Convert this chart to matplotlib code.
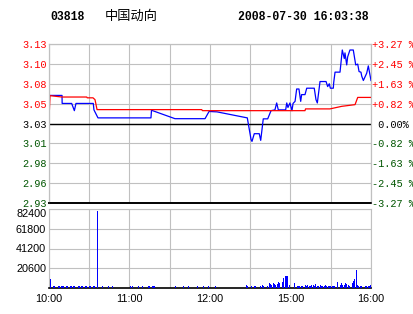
import matplotlib
matplotlib.use("Agg")
import matplotlib.pyplot as plt

# intraday chart, minutes since 10:00 (trading minutes, lunch removed)
prev_close = 3.03

price_min = [0, 9.7, 9.8, 16.9, 18.9, 20.1, 33, 33.5, 36.5, 76, 76.4, 93.9, 116.3, 119.3,
             125.2, 147.8, 150.6, 151.3, 153, 156.7, 157.8, 159.7, 163, 165.5, 168.4,
             169.7, 170.9, 176.4, 177.2, 178.1, 179.6, 181.1, 181.9, 183.4, 184.6, 186.3,
             187.6, 188.3, 190.8, 192.1, 197.7, 199, 200, 202, 206.5, 207.7, 208.9, 209.7,
             211.9, 212.2, 213.2, 216.9, 218.6, 220.1, 220.6, 221.9, 222.6, 224.3, 226.8,
             228.6, 230.1, 231.1, 232.5, 233.1, 234.3, 236.8, 238, 240]
price_val = [3.065, 3.065, 3.055, 3.055, 3.046, 3.055, 3.055, 3.047, 3.037, 3.037, 3.0465,
             3.036, 3.036, 3.045, 3.0445, 3.037, 3.010, 3.0077, 3.0173, 3.0173, 3.009,
             3.0358, 3.0358, 3.046, 3.047, 3.0556, 3.047, 3.047, 3.0556, 3.050, 3.0556,
             3.046, 3.055, 3.0576, 3.073, 3.073, 3.0576, 3.066, 3.066, 3.074, 3.074,
             3.0597, 3.0556, 3.0823, 3.0823, 3.076, 3.0795, 3.074, 3.074, 3.081, 3.094,
             3.094, 3.1216, 3.111, 3.118, 3.103, 3.113, 3.1216, 3.1216, 3.103, 3.104,
             3.0947, 3.094, 3.089, 3.0836, 3.0927, 3.1018, 3.0836]

avg_min = [0, 0.75, 9.7, 28.1, 28.5, 32.8, 34.3, 35.8, 113.8, 114.4, 190.8, 191.2,
           209.4, 218.2, 228.1, 230.1, 240]
avg_val = [3.035, 3.0647, 3.063, 3.063, 3.062, 3.062, 3.0597, 3.0473, 3.0473, 3.046,
           3.046, 3.0482, 3.0482, 3.0514, 3.0535, 3.0625, 3.0625]

vol_min = [1, 3, 4, 7, 8, 9, 10, 11, 13, 14, 16, 17, 18, 19, 22, 23, 24, 25, 27, 28, 30, 31,
           33, 34, 36, 40, 44, 47, 61, 62, 67, 70, 74, 75, 77, 78, 79, 94, 100, 104, 111,
           115, 119, 124,
           147, 148, 151, 153, 154, 158, 159, 160, 163, 164, 165, 166, 167, 168, 169,
           170, 171, 172, 174, 175, 176, 177, 178, 179, 183, 185, 186, 187, 188, 189,
           191, 192, 193, 194, 195, 196, 197, 198, 199, 200, 201, 202, 203, 204, 205,
           206, 207, 208, 209, 210, 211, 212, 213, 215, 217, 218, 219, 220, 221, 222,
           223, 224, 226, 227, 228, 229, 230, 231, 232, 233, 236, 237, 238, 239, 240]
vol_val = [9500, 2500, 2500, 2400, 2400, 2500, 2500, 2400, 2400, 2500, 2400, 2400, 2500,
           2500, 2400, 2500, 2400, 2400, 2500, 2400, 2500, 2400, 2500, 2500, 80000, 2000,
           1800, 1800, 2400, 2400, 1800, 1800, 2400, 2400, 2400, 2500, 2400, 1800, 1800,
           1800, 1800, 1800, 1800, 1800,
           3200, 2500, 2200, 2200, 2000, 2400, 3000, 2400, 2200, 5500, 4000, 3500, 5000,
           4500, 3000, 4000, 6500, 5000, 6500, 10000, 12500, 12000, 12000, 3000, 5000,
           2500, 2400, 2600, 2400, 2500, 3000, 2500, 3500, 2600, 2400, 3000, 3000, 2600,
           4000, 2600, 2400, 3000, 2400, 2600, 2400, 3000, 2600, 2400, 2500, 2400, 2600,
           2400, 2500, 6600, 3000, 5500, 3000, 3000, 5000, 4000, 3000, 2600, 5000, 7000,
           9000, 18800, 3500, 2500, 2500, 2400, 2400, 2500, 2400, 2000, 3000]

pct_ticks = [-3.27, -2.45, -1.63, -0.82, 0, 0.82, 1.63, 2.45, 3.27]
left_labels = ["2.93", "2.96", "2.98", "3.01", "3.03", "3.05", "3.08", "3.10", "3.13"]
right_labels = ["-3.27 %", "-2.45 %", "-1.63 %", "-0.82 %", " 0.00%",
                "+0.82 %", "+1.63 %", "+2.45 %", "+3.27 %"]
vol_ticks = [20600, 41200, 61800, 82400]
time_ticks = [0, 30, 60, 90, 120, 150, 180, 210, 240]
time_labels = ["10:00", "", "11:00", "", "12:00", "", "15:00", "", "16:00"]

RED = "#ff0000"
GREEN = "#005500"
GRID = "#c0c0c0"
mono = ["Liberation Mono", "DejaVu Sans Mono"]

fig = plt.figure(figsize=(4.14, 3.14), dpi=100)
W, H = 414.0, 314.0

ax = fig.add_axes([49 / W, 1 - 203 / H, 322 / W, 159 / H])
axv = fig.add_axes([49 / W, 1 - 288 / H, 322 / W, 79 / H])

# price panel (average line sits on top of the price line)
ax.plot(price_min, price_val, color="#0000ff", lw=0.9, zorder=3)
ax.plot(avg_min, avg_val, color=RED, lw=0.9, zorder=4)
ax.axhline(prev_close, color="black", lw=1.0, zorder=2)
ticks = [prev_close * (1 + p / 100) for p in pct_ticks]
ax.set_ylim(ticks[0], ticks[-1])
ax.set_xlim(0, 240)
ax.set_yticks(ticks)
ax.set_yticklabels(left_labels, family=mono, fontsize=7.4)
ax.set_xticks(time_ticks)
ax.set_xticklabels([])
ax.tick_params(length=0, pad=1.5)
ax.grid(True, color=GRID, lw=0.8)
ax.set_axisbelow(True)
for i, lab in enumerate(ax.get_yticklabels()):
    lab.set_color(RED if pct_ticks[i] > 0 else (GREEN if pct_ticks[i] < 0 else "black"))

axr = ax.twinx()
axr.set_ylim(ticks[0], ticks[-1])
axr.set_yticks(ticks)
axr.set_yticklabels(right_labels, family=mono, fontsize=7.4)
axr.tick_params(length=0, pad=1)
for i, lab in enumerate(axr.get_yticklabels()):
    lab.set_color(RED if pct_ticks[i] > 0 else (GREEN if pct_ticks[i] < 0 else "black"))

for a in (ax, axr):
    for s in ("top", "left", "right"):
        a.spines[s].set_color(GRID)
        a.spines[s].set_linewidth(0.8)
    a.spines["bottom"].set_color("black")
    a.spines["bottom"].set_linewidth(1.2)

# volume panel
axv.bar(vol_min, vol_val, width=0.75, color="#0000ff", zorder=3)
axv.set_xlim(0, 240)
axv.set_ylim(0, 82400)
axv.set_yticks(vol_ticks)
axv.set_yticklabels([str(v) for v in vol_ticks], family=["Liberation Sans", "DejaVu Sans"],
                    fontsize=7.8)
axv.get_yticklabels()[-1].set_va("top")
axv.set_xticks(time_ticks)
axv.set_xticklabels(time_labels, family=["Liberation Sans", "DejaVu Sans"], fontsize=7.8)
axv.tick_params(length=0, pad=2)
axv.tick_params(axis="x", pad=4)
axv.grid(True, color=GRID, lw=0.8)
axv.set_axisbelow(True)
for s in ("top", "left", "right"):
    axv.spines[s].set_color(GRID)
    axv.spines[s].set_linewidth(0.8)
axv.spines["bottom"].set_color("black")
axv.spines["bottom"].set_linewidth(1.2)

# header
fig.text(50 / W, 1 - 17 / H, "03818", family=mono, fontsize=8.3, weight="bold", va="center")
fig.text(105 / W, 1 - 16.5 / H, "中国动向", family=["Noto Sans CJK SC", "DejaVu Sans"],
         fontsize=9.5, va="center")
fig.text(238 / W, 1 - 17 / H, "2008-07-30 16:03:38", family=mono, fontsize=8.3,
         weight="bold", va="center")

fig.savefig("out.png", dpi=100)
